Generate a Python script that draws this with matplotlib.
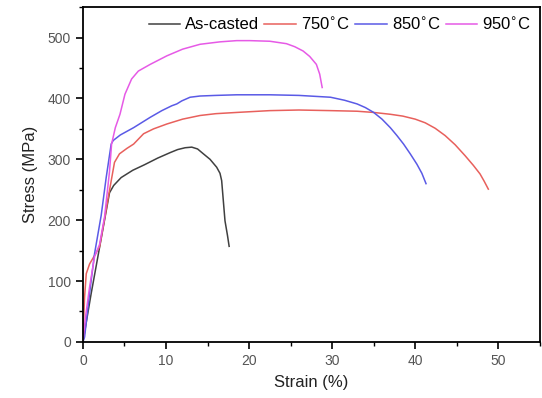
import matplotlib.pyplot as plt
from matplotlib.ticker import MultipleLocator

plt.rcParams["font.family"] = ["Liberation Sans", "DejaVu Sans"]

LABELS = ["As-casted", "750$^{\\circ}$C", "850$^{\\circ}$C", "950$^{\\circ}$C"]
COLORS = ["#404040", "#e8605c", "#5a5ae6", "#e65ae6"]

# As-casted
strain_cast = [0, 0.5, 1.0, 1.6, 2.2, 2.8, 3.2, 3.7, 4.6, 6.0, 7.4, 9.0, 10.5, 11.4, 12.3,
               13.1, 13.8, 14.5, 15.3, 16.1, 16.5, 16.7, 16.9, 17.1, 17.4, 17.6]
stress_cast = [0, 40, 80, 125, 170, 215, 245, 257, 270, 282, 291, 302, 311, 316, 319,
               320, 317, 309, 300, 287, 277, 265, 232, 199, 175, 157]

# 750 C
strain_750 = [0, 0.05, 0.2, 0.4, 0.8, 1.4, 2.0, 2.6, 3.2, 3.8, 4.4, 5.3, 6.1, 7.3, 8.5, 10.1,
              12, 14.1, 16, 18.5, 22.5, 26, 29.8, 33, 35.0, 37.0, 38.5, 40.0, 41.2, 42.4,
              43.6, 44.8, 46.0, 47.0, 47.8, 48.3, 48.8]
stress_750 = [0, 25, 74, 112, 128, 142, 156, 202, 249, 295, 309, 318, 325, 342, 350, 358,
              366, 372, 375, 377, 380, 381, 380, 379, 377, 374, 371, 366, 360, 351,
              339, 324, 306, 290, 276, 264, 251]

# 850 C
strain_850 = [0, 0.2, 0.8, 1.4, 2.2, 2.8, 3.4, 3.65, 4.5, 6.1, 8.1, 9.5, 10.7, 11.3, 11.9,
              12.9, 14.1, 16, 18.5, 22.5, 26, 29.8, 31.5, 33.0, 34.0, 35.0, 36.0, 37.0,
              37.8, 38.6, 39.4, 40.2, 40.8, 41.3]
stress_850 = [0, 8, 80, 145, 208, 270, 325, 331, 340, 352, 369, 380, 388, 391, 396,
              402, 404, 405, 406, 406, 405, 402, 397, 391, 385, 377, 366, 352,
              339, 325, 309, 292, 277, 260]

# 950 C
strain_950 = [0, 0.3, 0.8, 1.4, 2.0, 2.6, 3.2, 3.45, 3.9, 4.46, 5.06, 5.86, 6.67, 8.1, 10.1,
              12, 14.1, 16.5, 18.5, 20.1, 22.5, 24.5, 25.5, 26.5, 27.3, 28.1, 28.5, 28.8]
stress_950 = [0, 40, 90, 140, 160, 205, 280, 325, 352, 374, 407, 432, 445, 456, 470,
              481, 489, 493, 495, 495, 494, 490, 485, 478, 469, 456, 440, 418]

series = [
    (strain_cast, stress_cast),
    (strain_750, stress_750),
    (strain_850, stress_850),
    (strain_950, stress_950),
]

fig = plt.figure(figsize=(5.42, 3.98), dpi=100)
ax = fig.add_axes([0.153, 0.141, 0.843, 0.841])

for (x, y), color, label in zip(series, COLORS, LABELS):
    ax.plot(x, y, color=color, lw=1.1, label=label)

ax.set_xlim(0, 55)
ax.set_ylim(0, 550)
ax.xaxis.set_major_locator(MultipleLocator(10))
ax.xaxis.set_minor_locator(MultipleLocator(5))
ax.yaxis.set_major_locator(MultipleLocator(100))
ax.yaxis.set_minor_locator(MultipleLocator(50))
ax.tick_params(which="major", direction="out", length=5, width=1.2,
               labelsize=10, labelcolor="#555555")
ax.tick_params(which="minor", direction="out", length=3, width=1.0)
for sp in ax.spines.values():
    sp.set_linewidth(1.3)

ax.set_xlabel("Strain (%)", fontsize=12, color="#222222", labelpad=5)
ax.set_ylabel("Stress (MPa)", fontsize=12, color="#222222", labelpad=7)

ax.legend(loc="upper right", ncol=4, frameon=False, fontsize=12,
          handlelength=1.9, handletextpad=0.3, columnspacing=0.3,
          borderaxespad=0.1, bbox_to_anchor=(1.0, 1.0))

fig.savefig("out.png", dpi=100)
